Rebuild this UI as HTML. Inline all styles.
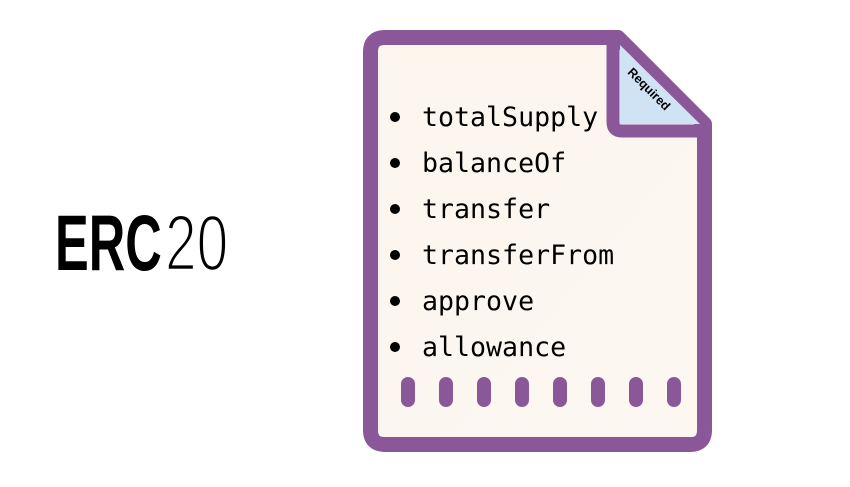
<!DOCTYPE html>
<html><head><style>
body{margin:0;background:#fff;width:850px;height:482px;overflow:hidden}
</style></head><body>
<svg width="850" height="482" viewBox="0 0 850 482" xmlns="http://www.w3.org/2000/svg">
<defs>
<linearGradient id="g" x1="0" y1="0" x2="1" y2="1">
<stop offset="0" stop-color="#fdf6ee"/><stop offset="1" stop-color="#fcf7f1"/>
</linearGradient>
</defs>
<text x="55" y="270" font-family="Liberation Sans, sans-serif" font-weight="bold" font-size="79" transform="translate(55,0) scale(0.64,1) translate(-55,0)" fill="#000">ERC</text>
<text x="165" y="270" font-family="Liberation Sans, sans-serif" font-size="79" transform="translate(165,0) scale(0.72,1) translate(-165,0)" fill="#000" stroke="#fff" stroke-width="2.5" font-weight="normal">20</text>
<path d="M385,37.5 L618,37.5 L704.5,124 L704.5,430 Q704.5,444.5 690,444.5 L385,444.5 Q370.5,444.5 370.5,430 L370.5,52 Q370.5,37.5 385,37.5 Z" fill="url(#g)" stroke="#8a5799" stroke-width="15" stroke-linejoin="round"/>
<path d="M613,40 L613,122 Q613,131 622,131 L702,131" fill="none" stroke="#8a5799" stroke-width="13" stroke-linejoin="round"/>
<path d="M620,45 L620,124 L700,124 Z" fill="#cfe3f5"/>
<text x="0" y="0" font-family="Liberation Sans, sans-serif" font-weight="bold" font-size="12.5" fill="#000" transform="translate(646,92) rotate(45)" text-anchor="middle">Required</text>
<g font-family="DejaVu Sans Mono, Liberation Mono, monospace" font-size="26.6" fill="#000">
<text x="422" y="126">totalSupply</text>
<text x="422" y="172">balanceOf</text>
<text x="422" y="218">transfer</text>
<text x="422" y="264">transferFrom</text>
<text x="422" y="310">approve</text>
<text x="422" y="356">allowance</text>
</g>
<g fill="#000">
<circle cx="395" cy="117" r="5"/><circle cx="395" cy="163" r="5"/><circle cx="395" cy="209" r="5"/>
<circle cx="395" cy="255" r="5"/><circle cx="395" cy="301" r="5"/><circle cx="395" cy="347" r="5"/>
</g>
<g fill="#8a5799">
<rect x="401" y="377" width="14" height="30" rx="7"/>
<rect x="439" y="377" width="14" height="30" rx="7"/>
<rect x="477" y="377" width="14" height="30" rx="7"/>
<rect x="515" y="377" width="14" height="30" rx="7"/>
<rect x="553" y="377" width="14" height="30" rx="7"/>
<rect x="591" y="377" width="14" height="30" rx="7"/>
<rect x="629" y="377" width="14" height="30" rx="7"/>
<rect x="667" y="377" width="14" height="30" rx="7"/>
</g>
</svg>
</body></html>
